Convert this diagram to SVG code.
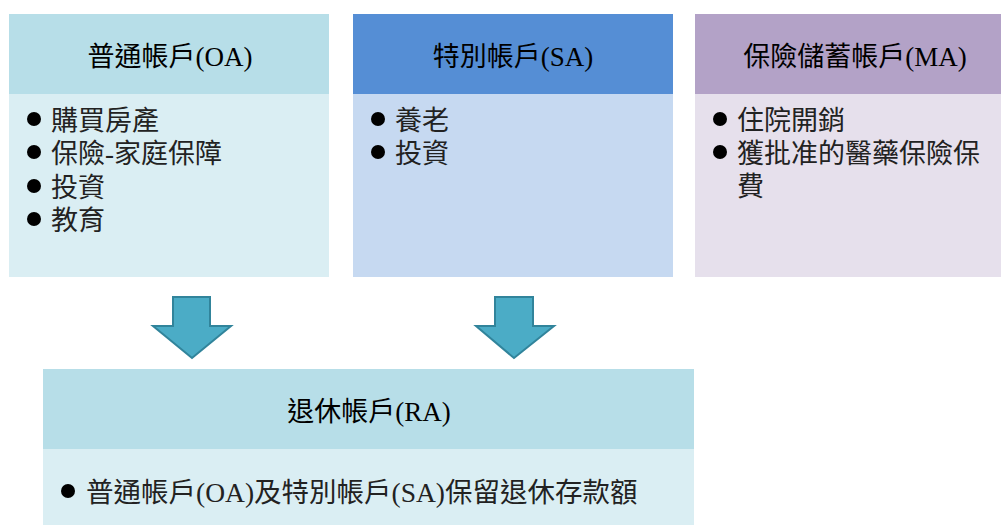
<svg xmlns="http://www.w3.org/2000/svg" width="1001" height="525" viewBox="0 0 1001 525">
<style>
.t{font-family:"Liberation Serif","Noto Sans CJK TC",serif;font-size:27px;fill:#000;text-anchor:middle}
.b{font-family:"Liberation Serif","Noto Sans CJK TC",serif;font-size:27px;fill:#222}
.dot{fill:#000}
.arr{fill:#4BACC6;stroke:#31849B;stroke-width:2;stroke-linejoin:miter}
</style>
<rect width="1001" height="525" fill="#fff"/>
<g id="oa">
<rect x="9" y="14" width="320" height="80" fill="#B7DEE8"/>
<rect x="9" y="94" width="320" height="183" fill="#DAEEF3"/>
<text class="t" x="170" y="66">普通帳戶(OA)</text>
<circle class="dot" cx="34" cy="119" r="7"/>
<circle class="dot" cx="34" cy="152" r="7"/>
<circle class="dot" cx="34" cy="186" r="7"/>
<circle class="dot" cx="34" cy="219" r="7"/>
<text class="b" x="51" y="130">購買房產</text>
<text class="b" x="51" y="163">保險-家庭保障</text>
<text class="b" x="51" y="197">投資</text>
<text class="b" x="51" y="230">教育</text>
</g>
<g id="sa">
<rect x="353" y="14" width="320" height="80" fill="#558ED5"/>
<rect x="353" y="94" width="320" height="183" fill="#C6D9F1"/>
<text class="t" x="513" y="66">特別帳戶(SA)</text>
<circle class="dot" cx="378" cy="119" r="7"/>
<circle class="dot" cx="378" cy="152" r="7"/>
<text class="b" x="395" y="130">養老</text>
<text class="b" x="395" y="163">投資</text>
</g>
<g id="ma">
<rect x="695" y="14" width="306" height="80" fill="#B3A2C7"/>
<rect x="695" y="94" width="306" height="183" fill="#E6E0EC"/>
<text class="t" x="855" y="66">保險儲蓄帳戶(MA)</text>
<circle class="dot" cx="720" cy="119" r="7"/>
<circle class="dot" cx="720" cy="152" r="7"/>
<text class="b" x="737" y="130">住院開銷</text>
<text class="b" x="737" y="163">獲批准的醫藥保險保</text>
<text class="b" x="737" y="196">費</text>
</g>
<g id="ra">
<rect x="43" y="369" width="651" height="80" fill="#B7DEE8"/>
<rect x="43" y="449" width="651" height="76" fill="#DAEEF3"/>
<text class="t" x="369" y="421">退休帳戶(RA)</text>
<circle class="dot" cx="68" cy="491" r="7"/>
<text class="b" x="86" y="502" style="font-size:27.5px">普通帳戶(OA)及特別帳戶(SA)保留退休存款額</text>
</g>
<g id="connectors">
<path class="arr" d="M173,297 H210 V326 H231 L192,358 L153,326 H173 Z"/>
<path class="arr" d="M495,297 H533 V326 H554 L514,358 L476,326 H495 Z"/>
</g>
</svg>
